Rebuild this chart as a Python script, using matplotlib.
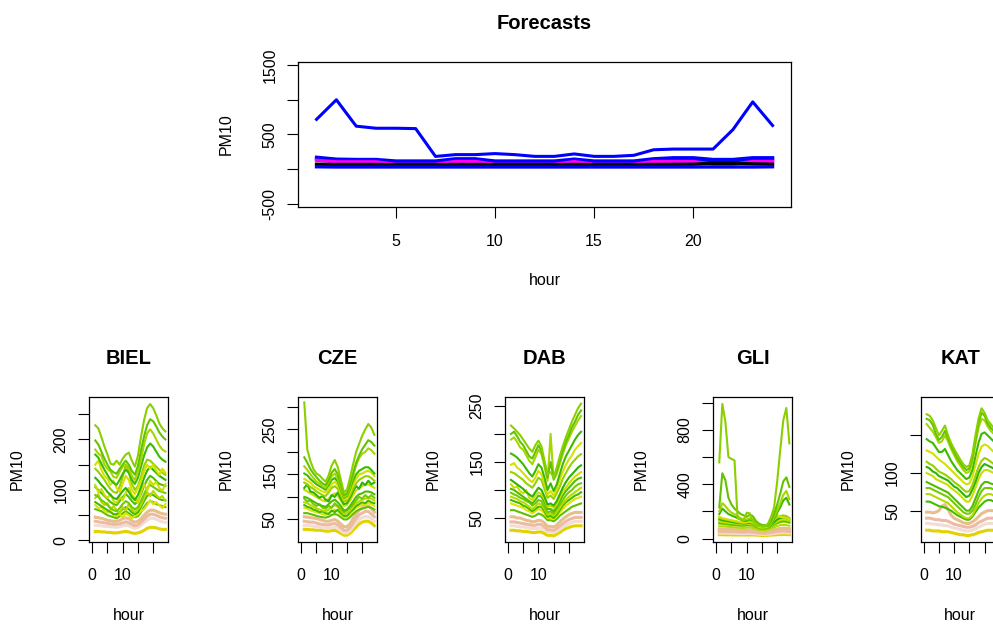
import numpy as np
import matplotlib.pyplot as plt

plt.rcParams['font.family'] = ['Liberation Sans', 'DejaVu Sans']

hours = list(range(1, 25))

# forecast lines (top panel)
fc_max = [718, 1000, 620, 590, 590, 585, 184, 210, 210, 225, 210, 185,
          185, 220, 185, 185, 200, 280, 290, 290, 290, 570, 970, 630]
fc_hi = [172, 145, 140, 140, 118, 118, 118, 150, 150, 118, 118, 118,
         118, 145, 118, 118, 118, 150, 165, 165, 140, 140, 165, 165]
fc_mid = [150, 125, 122, 122, 100, 100, 100, 130, 130, 100, 100, 100,
          100, 125, 100, 100, 100, 130, 140, 140, 115, 115, 140, 140]
fc_mag = [128, 106, 106, 106, 70, 70, 70, 112, 112, 70, 70, 70,
          70, 110, 70, 70, 70, 112, 112, 112, 70, 70, 112, 112]
fc_black = [72, 68, 68, 68, 66, 66, 66, 68, 68, 66, 66, 66,
            66, 68, 66, 66, 66, 68, 70, 72, 85, 85, 78, 72]
fc_lo = [35, 32, 32, 32, 32, 32, 32, 32, 32, 32, 32, 32,
         32, 32, 32, 32, 32, 32, 32, 32, 32, 32, 32, 35]

stations = ['BIEL', 'CZE', 'DAB', 'GLI', 'KAT']

# hourly PM10 per day, high/mid lines first, last four are the low band
biel = [
    [228, 222, 205, 186, 170, 152, 150, 158, 150, 162, 170, 174, 158, 146, 168, 205, 238, 262, 270, 262, 248, 232, 222, 216],
    [198, 190, 176, 162, 150, 140, 135, 132, 142, 150, 158, 150, 138, 130, 148, 178, 206, 228, 240, 236, 226, 214, 206, 200],
    [180, 172, 168, 150, 142, 136, 126, 124, 136, 146, 150, 144, 128, 120, 136, 160, 190, 212, 220, 212, 200, 188, 180, 176],
    [170, 164, 152, 140, 130, 120, 114, 110, 120, 132, 140, 134, 120, 112, 124, 146, 168, 184, 192, 186, 176, 166, 160, 156],
    [150, 158, 140, 128, 122, 110, 118, 104, 96, 112, 128, 120, 100, 92, 104, 118, 136, 150, 142, 150, 138, 130, 142, 134],
    [142, 136, 128, 120, 110, 102, 96, 94, 106, 126, 150, 136, 112, 100, 108, 126, 148, 160, 158, 152, 146, 140, 134, 130],
    [124, 118, 110, 104, 96, 90, 84, 82, 90, 98, 104, 96, 86, 80, 90, 106, 124, 138, 146, 140, 134, 128, 124, 120],
    [110, 96, 102, 90, 84, 92, 78, 74, 86, 80, 94, 104, 90, 84, 74, 96, 112, 98, 118, 110, 116, 104, 98, 112],
    [106, 100, 94, 88, 82, 76, 72, 70, 78, 86, 92, 86, 78, 72, 78, 92, 108, 120, 128, 124, 118, 112, 110, 108],
    [90, 86, 80, 76, 70, 64, 60, 58, 64, 72, 78, 74, 66, 62, 66, 78, 92, 104, 110, 106, 102, 98, 96, 94],
    [84, 92, 76, 70, 74, 62, 68, 60, 54, 66, 60, 72, 62, 56, 62, 70, 84, 96, 88, 98, 90, 84, 88, 78],
    [76, 72, 68, 64, 60, 56, 52, 52, 56, 62, 66, 62, 56, 52, 56, 66, 78, 88, 92, 90, 86, 82, 80, 80],
    [70, 64, 66, 58, 56, 60, 50, 48, 52, 46, 54, 50, 44, 48, 52, 58, 62, 70, 80, 72, 76, 70, 64, 72],
    [62, 60, 58, 54, 50, 48, 46, 44, 48, 54, 58, 54, 50, 46, 48, 56, 66, 74, 78, 76, 72, 70, 68, 66],
    [46, 45, 44, 42, 40, 39, 38, 38, 40, 43, 45, 43, 39, 36, 38, 43, 50, 56, 60, 60, 58, 55, 53, 52],
    [38, 37, 36, 35, 34, 33, 32, 32, 33, 35, 37, 35, 32, 29, 31, 36, 42, 48, 52, 52, 50, 47, 45, 44],
    [30, 30, 29, 28, 28, 27, 27, 26, 27, 29, 30, 29, 26, 24, 26, 30, 35, 40, 44, 44, 42, 39, 37, 36],
    [18, 18, 17, 17, 16, 16, 15, 15, 16, 17, 18, 17, 15, 14, 15, 17, 20, 24, 26, 26, 25, 23, 22, 22],
]

cze = [
    [310, 205, 180, 162, 152, 148, 140, 134, 148, 170, 182, 166, 138, 110, 116, 142, 172, 200, 218, 236, 250, 262, 254, 238],
    [188, 176, 162, 152, 144, 136, 130, 126, 138, 154, 162, 150, 128, 104, 108, 128, 152, 176, 192, 206, 216, 226, 222, 214],
    [168, 160, 150, 142, 134, 130, 124, 120, 132, 146, 152, 140, 120, 100, 104, 122, 146, 170, 186, 196, 200, 208, 204, 196],
    [152, 148, 140, 134, 128, 124, 120, 116, 126, 138, 142, 134, 116, 98, 102, 118, 136, 150, 158, 162, 166, 166, 160, 152],
    [140, 136, 132, 124, 120, 116, 112, 110, 116, 128, 134, 126, 110, 94, 96, 110, 128, 140, 150, 152, 156, 158, 154, 146],
    [132, 128, 122, 118, 112, 108, 104, 102, 110, 120, 124, 118, 104, 90, 92, 104, 118, 130, 138, 142, 146, 146, 142, 136],
    [120, 128, 112, 110, 104, 98, 102, 94, 90, 104, 100, 110, 96, 84, 86, 98, 112, 124, 118, 132, 126, 136, 128, 132],
    [116, 112, 108, 104, 100, 96, 92, 90, 96, 104, 108, 102, 92, 80, 82, 92, 104, 114, 120, 124, 128, 128, 124, 120],
    [100, 98, 94, 90, 86, 82, 80, 78, 84, 90, 94, 88, 80, 70, 72, 80, 90, 100, 106, 108, 112, 112, 110, 106],
    [96, 90, 92, 84, 80, 84, 76, 74, 80, 76, 86, 80, 74, 66, 70, 76, 84, 92, 100, 96, 104, 98, 104, 98],
    [88, 86, 82, 78, 75, 72, 70, 68, 72, 78, 82, 78, 70, 62, 64, 70, 78, 86, 90, 94, 96, 98, 96, 92],
    [82, 78, 76, 72, 70, 66, 68, 64, 62, 70, 66, 72, 64, 58, 58, 66, 72, 80, 84, 88, 86, 92, 88, 86],
    [76, 74, 70, 68, 66, 64, 62, 60, 64, 68, 72, 68, 62, 55, 56, 62, 70, 76, 80, 82, 84, 86, 84, 80],
    [64, 64, 62, 60, 58, 56, 55, 54, 56, 60, 62, 60, 55, 50, 50, 55, 62, 68, 72, 74, 76, 78, 76, 72],
    [56, 55, 54, 53, 52, 50, 48, 46, 46, 48, 50, 46, 40, 34, 34, 40, 52, 62, 70, 76, 80, 80, 74, 66],
    [46, 45, 44, 44, 42, 40, 39, 38, 38, 40, 41, 38, 32, 26, 26, 32, 42, 52, 60, 64, 68, 68, 62, 56],
    [37, 37, 36, 35, 34, 33, 32, 31, 31, 32, 33, 30, 25, 20, 20, 25, 34, 42, 50, 54, 56, 56, 52, 46],
    [28, 28, 27, 27, 26, 26, 25, 24, 24, 25, 26, 23, 19, 15, 15, 19, 26, 33, 40, 44, 46, 46, 42, 36],
]

dab = [
    [215, 210, 204, 198, 190, 182, 174, 168, 180, 188, 178, 152, 128, 132, 122, 140, 160, 178, 194, 208, 222, 234, 246, 254],
    [200, 204, 196, 186, 180, 170, 160, 156, 168, 180, 170, 148, 122, 150, 120, 134, 152, 170, 186, 198, 212, 222, 234, 242],
    [190, 194, 186, 176, 172, 162, 152, 146, 158, 172, 164, 142, 116, 200, 118, 128, 146, 164, 180, 192, 204, 214, 224, 232],
    [165, 162, 158, 152, 146, 138, 130, 124, 134, 146, 140, 122, 100, 112, 98, 110, 128, 146, 160, 170, 180, 190, 198, 204],
    [145, 148, 140, 136, 130, 124, 118, 114, 122, 134, 128, 112, 92, 98, 90, 102, 118, 132, 145, 154, 162, 172, 178, 184],
    [132, 130, 126, 122, 118, 112, 108, 104, 112, 122, 118, 102, 86, 90, 84, 94, 106, 120, 130, 140, 148, 154, 160, 164],
    [118, 114, 110, 106, 102, 96, 92, 88, 96, 104, 100, 88, 74, 76, 72, 80, 92, 104, 114, 122, 128, 134, 140, 144],
    [110, 104, 106, 98, 94, 100, 86, 82, 90, 96, 92, 84, 70, 72, 68, 74, 86, 98, 104, 112, 118, 124, 128, 132],
    [102, 100, 96, 92, 88, 84, 80, 76, 82, 90, 88, 78, 66, 66, 62, 70, 80, 90, 98, 104, 110, 116, 120, 122],
    [95, 92, 90, 86, 84, 80, 78, 72, 76, 82, 80, 70, 60, 62, 58, 66, 74, 82, 90, 96, 100, 106, 110, 112],
    [88, 86, 84, 80, 78, 74, 70, 66, 70, 76, 74, 66, 56, 58, 54, 60, 68, 76, 82, 88, 92, 96, 100, 104],
    [82, 80, 78, 76, 72, 70, 66, 62, 66, 70, 70, 62, 52, 54, 50, 56, 64, 72, 78, 82, 86, 90, 92, 96],
    [76, 74, 72, 70, 68, 64, 62, 58, 62, 66, 64, 58, 50, 50, 48, 54, 60, 66, 72, 76, 80, 84, 86, 88],
    [64, 64, 62, 60, 58, 56, 54, 52, 54, 58, 56, 52, 46, 46, 44, 48, 54, 58, 62, 66, 70, 72, 74, 76],
    [52, 52, 50, 50, 48, 46, 45, 43, 44, 46, 45, 41, 35, 35, 34, 37, 43, 48, 52, 56, 58, 60, 60, 60],
    [43, 43, 42, 41, 40, 39, 38, 37, 37, 39, 38, 34, 29, 29, 28, 31, 36, 40, 44, 47, 49, 51, 51, 51],
    [36, 36, 35, 34, 34, 33, 32, 31, 31, 32, 32, 29, 25, 25, 24, 26, 30, 34, 37, 40, 42, 44, 44, 44],
    [28, 28, 27, 27, 26, 26, 25, 24, 24, 25, 25, 22, 19, 19, 18, 21, 24, 28, 31, 33, 35, 36, 36, 36],
]

gli = [
    [560, 990, 860, 600, 585, 575, 150, 140, 135, 190, 185, 130, 100, 92, 90, 92, 110, 160, 230, 420, 650, 870, 960, 700],
    [230, 480, 430, 300, 250, 220, 200, 180, 170, 160, 175, 165, 130, 110, 100, 98, 100, 130, 180, 250, 330, 420, 450, 380],
    [200, 260, 240, 210, 190, 180, 165, 150, 140, 140, 150, 140, 115, 98, 92, 92, 98, 120, 160, 210, 260, 320, 350, 290],
    [180, 220, 200, 180, 170, 160, 150, 140, 130, 130, 140, 130, 110, 95, 90, 90, 95, 115, 150, 190, 230, 280, 300, 250],
    [160, 150, 145, 140, 135, 130, 125, 120, 118, 120, 125, 118, 100, 85, 80, 82, 90, 120, 200, 175, 160, 155, 150, 140],
    [150, 145, 140, 135, 130, 126, 122, 118, 116, 118, 122, 114, 98, 84, 80, 82, 88, 105, 140, 160, 165, 170, 165, 150],
    [140, 135, 130, 126, 122, 118, 115, 112, 110, 112, 115, 110, 95, 82, 78, 80, 85, 100, 120, 140, 150, 155, 150, 140],
    [125, 122, 118, 115, 112, 110, 108, 105, 104, 106, 108, 104, 92, 80, 76, 78, 82, 95, 110, 125, 135, 140, 138, 130],
    [118, 116, 112, 110, 106, 104, 102, 100, 98, 100, 104, 100, 90, 80, 74, 76, 80, 92, 106, 118, 128, 132, 130, 122],
    [110, 108, 105, 102, 100, 98, 96, 94, 94, 96, 98, 94, 85, 76, 72, 74, 78, 88, 100, 112, 120, 125, 122, 116],
    [90, 90, 88, 86, 84, 82, 80, 78, 78, 80, 82, 78, 72, 64, 62, 62, 66, 74, 82, 92, 98, 100, 98, 94],
    [70, 70, 68, 68, 66, 65, 64, 62, 62, 62, 64, 62, 58, 52, 50, 50, 52, 58, 64, 70, 74, 76, 74, 72],
    [52, 52, 51, 50, 50, 49, 48, 47, 47, 48, 48, 47, 44, 40, 38, 38, 40, 44, 48, 52, 54, 56, 54, 52],
    [40, 40, 39, 39, 38, 38, 37, 36, 36, 37, 37, 36, 34, 32, 30, 30, 31, 34, 37, 40, 42, 43, 42, 40],
    [28, 28, 27, 27, 27, 26, 26, 26, 26, 26, 26, 26, 25, 24, 22, 22, 24, 25, 26, 28, 29, 30, 29, 28],
]

kat = [
    [178, 176, 170, 160, 150, 156, 163, 150, 140, 132, 125, 118, 112, 108, 110, 125, 150, 172, 186, 180, 170, 165, 160, 155],
    [172, 170, 164, 152, 144, 148, 156, 146, 136, 128, 120, 114, 108, 104, 106, 120, 144, 166, 180, 176, 166, 160, 156, 152],
    [165, 160, 155, 148, 140, 142, 150, 142, 132, 124, 116, 110, 104, 100, 102, 115, 138, 160, 172, 170, 162, 156, 152, 148],
    [145, 142, 140, 134, 128, 128, 132, 124, 116, 110, 104, 100, 96, 92, 94, 104, 122, 140, 152, 154, 150, 146, 142, 138],
    [130, 128, 126, 122, 118, 115, 112, 108, 104, 100, 96, 92, 88, 85, 86, 95, 110, 125, 135, 138, 136, 132, 128, 125],
    [115, 112, 110, 106, 102, 100, 98, 95, 92, 88, 85, 82, 78, 75, 76, 84, 96, 108, 116, 120, 118, 115, 112, 110],
    [108, 106, 102, 100, 96, 94, 92, 90, 86, 82, 80, 76, 72, 68, 70, 78, 88, 100, 108, 112, 110, 108, 106, 104],
    [100, 98, 96, 92, 90, 88, 86, 84, 80, 77, 74, 70, 66, 62, 62, 70, 80, 92, 100, 104, 104, 102, 100, 98],
    [88, 86, 84, 82, 80, 78, 76, 74, 70, 66, 62, 58, 54, 50, 50, 56, 66, 76, 84, 88, 88, 86, 85, 84],
    [80, 80, 78, 76, 74, 72, 70, 68, 64, 60, 56, 52, 48, 46, 46, 50, 58, 68, 76, 80, 80, 80, 78, 78],
    [72, 72, 70, 68, 66, 64, 62, 60, 56, 52, 48, 45, 42, 40, 40, 44, 52, 60, 66, 70, 72, 72, 70, 70],
    [62, 62, 60, 58, 56, 55, 54, 52, 50, 47, 44, 42, 40, 38, 38, 42, 48, 54, 58, 62, 64, 64, 62, 62],
    [48, 48, 47, 48, 50, 56, 58, 52, 44, 40, 38, 36, 34, 33, 33, 35, 38, 42, 46, 48, 50, 50, 50, 50],
    [40, 40, 39, 38, 38, 37, 37, 36, 34, 32, 31, 30, 29, 28, 28, 29, 31, 34, 36, 38, 40, 40, 40, 40],
    [33, 33, 32, 32, 31, 31, 30, 30, 28, 27, 26, 25, 24, 23, 23, 24, 26, 28, 30, 32, 33, 33, 33, 33],
    [24, 24, 23, 23, 23, 22, 22, 22, 21, 20, 19, 18, 18, 17, 17, 18, 19, 21, 22, 23, 24, 24, 24, 24],
]

station_data = [biel, cze, dab, gli, kat]

# y ticks / labels per station (R drops overlapping labels)
yticks = [[0, 50, 100, 150, 200, 250],
          [50, 100, 150, 200, 250, 300],
          [50, 100, 150, 200, 250],
          [0, 200, 400, 600, 800, 1000],
          [50, 100, 150]]
ylabs = [['0', '', '100', '', '200', ''],
         ['50', '', '150', '', '250', ''],
         ['50', '', '150', '', '250'],
         ['0', '', '400', '', '800', ''],
         ['50', '100', '']]

W, H = 993, 626
fig = plt.figure(figsize=(W / 100, H / 100), dpi=100)

greens = ['#8ACF00', '#62C400', '#A5D600', '#3CBA00', '#D3E100', '#96D100',
          '#2DB400', '#CADE00', '#4FBE00', '#74C900', '#B4DA00', '#42BB00',
          '#E0E300', '#5CC100']
lows = ['#E8BE8C', '#EDBBA3', '#F1DDD3', '#E2D200']
FS = 11.5


def px_axes(left, top, w, h):
    return fig.add_axes([left / W, 1 - (top + h) / H, w / W, h / H])


def dress(ax, w, h, title):
    for s in ax.spines.values():
        s.set_linewidth(0.9)
        s.set_color('black')
    ax.tick_params(length=7.9, width=0.8, labelsize=FS, colors='black')
    ax.tick_params(axis='x', pad=11.5)
    ax.tick_params(axis='y', pad=7.0)
    for lab in ax.get_yticklabels():
        lab.set_rotation(90)
        lab.set_va('center')
    ax.set_xlabel('hour', fontsize=FS)
    ax.xaxis.label.set_va('center')
    ax.xaxis.set_label_coords(0.5, -74 / h)
    ax.set_ylabel('PM10', fontsize=FS)
    ax.yaxis.label.set_va('center')
    ax.yaxis.set_label_coords(-72 / w, 0.5)
    ax.text(0.5, 1 + 39 / h, title, transform=ax.transAxes, ha='center',
            va='center', fontsize=14.5, fontweight='bold')


# top panel
tw, th = 492.5, 144.4
ax = px_axes(298.3, 62.3, tw, th)
ax.plot(hours, fc_max, color='blue', lw=2.2)
ax.plot(hours, fc_hi, color='blue', lw=2.4)
ax.plot(hours, fc_mid, color='blue', lw=2.4)
ax.plot(hours, fc_mag, color='magenta', lw=2.4)
ax.plot(hours, fc_black, color='black', lw=2.4)
ax.plot(hours, fc_lo, color='blue', lw=2.4)
ax.set_xlim(0.08, 24.92)
ax.set_ylim(-540, 1540)
ax.set_xticks([5, 10, 15, 20])
ax.set_yticks([-500, 0, 500, 1000, 1500])
ax.set_yticklabels(['-500', '', '500', '', '1500'])
dress(ax, tw, th, 'Forecasts')

# station panels
lefts = [89.3, 298.3, 505.0, 713.3, 920.7]
ylims = [(-2, 284), (1, 322), (8, 266), (-22, 1041), (9, 201)]
bw, bh = 79.0, 144.5
for i, name in enumerate(stations):
    ax = px_axes(lefts[i], 397.0, bw, bh)
    lines = station_data[i]
    n = len(lines)
    cols = greens[:n - 4] + lows
    for j in range(n - 1, -1, -1):
        ax.plot(hours, lines[j], color=cols[j], lw=2.2 if j >= n - 4 else 1.5)
    ax.set_xlim(-0.96, 24.96)
    ax.set_ylim(*ylims[i])
    ax.set_xticks([0, 5, 10, 15, 20])
    ax.set_xticklabels(['0', '', '10', '', ''])
    ax.set_yticks(yticks[i])
    ax.set_yticklabels(ylabs[i])
    dress(ax, bw, bh, name)

plt.savefig('out.png', dpi=100)
